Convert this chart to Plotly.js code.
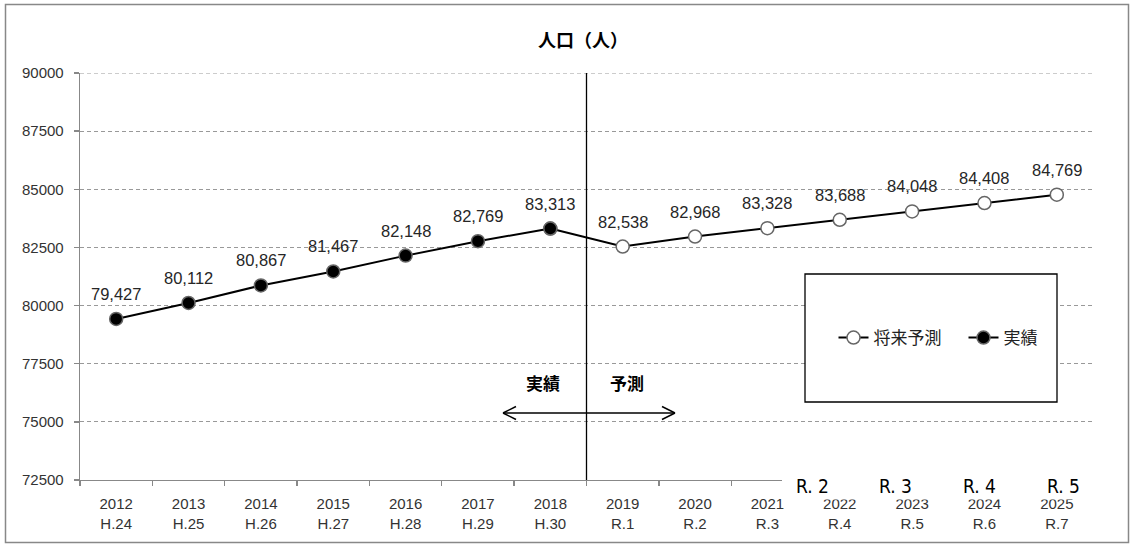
<!DOCTYPE html>
<html>
<head>
<meta charset="utf-8">
<script src="https://cdn.plot.ly/plotly-3.0.1.min.js"></script>
<style>html,body{margin:0;padding:0;background:#fff;}#chart{width:1134px;height:545px;}</style>
</head>
<body>
<div id="chart"></div>
<script>
// ---- data ----
const years = ['2012','2013','2014','2015','2016','2017','2018','2019','2020','2021','2022','2023','2024','2025'];
const eraLabels = ['H.24','H.25','H.26','H.27','H.28','H.29','H.30','R.1','R.2','R.3','R.4','R.5','R.6','R.7'];
const actualYears = ['2012','2013','2014','2015','2016','2017','2018'];
const actualValues = [79427, 80112, 80867, 81467, 82148, 82769, 83313];
const forecastYears = ['2018','2019','2020','2021','2022','2023','2024','2025'];
const forecastValues = [83313, 82538, 82968, 83328, 83688, 84048, 84408, 84769];
const forecastLabelFrom = 1; // 2018 value is labelled by the actual series
const overlayLabels = ['R. 2','R. 3','R. 4','R. 5'];

// ---- geometry helpers (pixels -> paper) ----
const L = 80, R = 1093, T = 73, B = 480;
const px = x => (x - L) / (R - L);
const py = y => (B - y) / (B - T);

const catText = years.map((y, i) => y + '<br>' + eraLabels[i]);
const fmt = v => v.toLocaleString('en-US');
const idx = y => years.indexOf(y);

const numFont = 'Liberation Sans, Arial, sans-serif';
const jpFont = '"Noto Sans CJK JP", sans-serif';

const forecast = {
  x: forecastYears, y: forecastValues, name: '将来予測　', type: 'scatter', mode: 'lines+markers',
  line: {color: '#000', width: 2},
  marker: {symbol: 'circle', size: 13, color: '#fff', line: {color: '#666', width: 1.5}},
  hoverinfo: 'skip'
};
const actual = {
  x: actualYears, y: actualValues, name: '実績', type: 'scatter', mode: 'lines+markers',
  line: {color: '#000', width: 2},
  marker: {symbol: 'circle', size: 13, color: '#000', line: {color: '#666', width: 1.5}},
  hoverinfo: 'skip'
};

const annotations = [];
const labelFont = {family: numFont, size: 16.5, color: '#262626'};
actualYears.forEach((x, i) => annotations.push({
  x: idx(x), y: actualValues[i], xref: 'x', yref: 'y', text: fmt(actualValues[i]), showarrow: false,
  xanchor: 'center', yanchor: 'middle', yshift: 25, font: labelFont
}));
forecastYears.forEach((x, i) => { if (i >= forecastLabelFrom) annotations.push({
  x: idx(x), y: forecastValues[i], xref: 'x', yref: 'y', text: fmt(forecastValues[i]), showarrow: false,
  xanchor: 'center', yanchor: 'middle', yshift: 25, font: labelFont
}); });
// region captions
annotations.push({x: px(543), y: py(382), xref: 'paper', yref: 'paper', text: '<b>実績</b>', showarrow: false,
  xanchor: 'center', yanchor: 'middle', font: {family: jpFont, size: 17, color: '#000'}});
annotations.push({x: px(627), y: py(382), xref: 'paper', yref: 'paper', text: '<b>予測</b>', showarrow: false,
  xanchor: 'center', yanchor: 'middle', font: {family: jpFont, size: 17, color: '#000'}});
// stray overlay labels
const overlayX = [812, 895, 979, 1063];
overlayLabels.forEach((t, i) => annotations.push({
  x: px(overlayX[i]), y: py(485.5), xref: 'paper', yref: 'paper', text: t, showarrow: false,
  xanchor: 'center', yanchor: 'middle',
  font: {family: '"Liberation Sans Narrow", "DejaVu Sans Condensed", sans-serif', size: 19, color: '#000'}
}));

const black = {color: '#000', width: 1.5};
const shapes = [
  // outer frame
  {type: 'rect', xref: 'paper', yref: 'paper', x0: px(5.5), x1: px(1128.5), y0: py(4.5), y1: py(542.5),
   line: {color: '#888', width: 1.5}, fillcolor: 'rgba(0,0,0,0)', layer: 'below'},
  // top gridline (90000), not drawn by plotly at the edge
  {type: 'line', xref: 'paper', yref: 'y', x0: 0, x1: 1, y0: 90000, y1: 90000,
   line: {color: '#999', width: 1, dash: '4px,3px'}, layer: 'below'},
  // divider between actual and forecast
  {type: 'line', xref: 'x', yref: 'paper', x0: 6.5, x1: 6.5, y0: 0, y1: 1, line: {color: '#000', width: 1.3}, layer: 'above'},
  // double arrow
  {type: 'line', xref: 'paper', yref: 'paper', x0: px(503), x1: px(675), y0: py(413), y1: py(413), line: black},
  {type: 'line', xref: 'paper', yref: 'paper', x0: px(503), x1: px(516), y0: py(413), y1: py(406.5), line: black},
  {type: 'line', xref: 'paper', yref: 'paper', x0: px(503), x1: px(516), y0: py(413), y1: py(419.5), line: black},
  {type: 'line', xref: 'paper', yref: 'paper', x0: px(675), x1: px(662), y0: py(413), y1: py(406.5), line: black},
  {type: 'line', xref: 'paper', yref: 'paper', x0: px(675), x1: px(662), y0: py(413), y1: py(419.5), line: black},
  // legend box
  {type: 'rect', xref: 'paper', yref: 'paper', x0: px(805), x1: px(1057), y0: py(274), y1: py(402),
   line: {color: '#000', width: 1.3}, fillcolor: '#fff', layer: 'above'},
  // white box that covers the right end of the x axis
  {type: 'rect', xref: 'paper', yref: 'paper', x0: px(782), x1: px(1100), y0: py(471), y1: py(499.5),
   line: {width: 0}, fillcolor: '#fff', layer: 'above'}
];

const layout = {
  width: 1134, height: 545,
  margin: {l: L, r: 1134 - R, t: T, b: 545 - B},
  paper_bgcolor: '#fff', plot_bgcolor: '#fff',
  title: {text: '<b>人口（人）</b>', x: px(583), xref: 'paper', xanchor: 'center', y: 1 - 41 / 545, yanchor: 'middle',
          font: {family: jpFont, size: 18, color: '#000'}},
  showlegend: true,
  legend: {orientation: 'h', x: px(938), y: py(338), xanchor: 'center', yanchor: 'middle',
           bgcolor: 'rgba(0,0,0,0)', font: {family: jpFont, size: 17, color: '#222'}, itemwidth: 30,
           traceorder: 'normal'},
  xaxis: {
    type: 'category', categoryorder: 'array', categoryarray: years,
    tickvals: years, ticktext: catText, range: [-0.5, 13.5],
    tickson: 'boundaries', ticks: 'outside', ticklen: 5, tickcolor: '#888', tickwidth: 1.3,
    showline: true, linecolor: '#888', linewidth: 1.3, showgrid: false, zeroline: false,
    tickfont: {family: numFont, size: 15, color: '#333'}, ticklabelstandoff: 10, fixedrange: true
  },
  yaxis: {
    range: [72500, 90000], dtick: 2500, tick0: 72500, tickformat: 'd',
    ticks: 'outside', ticklen: 5, tickcolor: '#888', tickwidth: 1.3,
    showline: true, linecolor: '#888', linewidth: 1.3,
    showgrid: true, gridcolor: '#999', gridwidth: 1, griddash: '4px,3px', zeroline: false,
    tickfont: {family: numFont, size: 15, color: '#333'}, ticklabelstandoff: 7, fixedrange: true
  },
  shapes: shapes,
  annotations: annotations
};

Plotly.newPlot('chart', [forecast, actual], layout, {displayModeBar: false, staticPlot: true});
</script>
</body>
</html>
